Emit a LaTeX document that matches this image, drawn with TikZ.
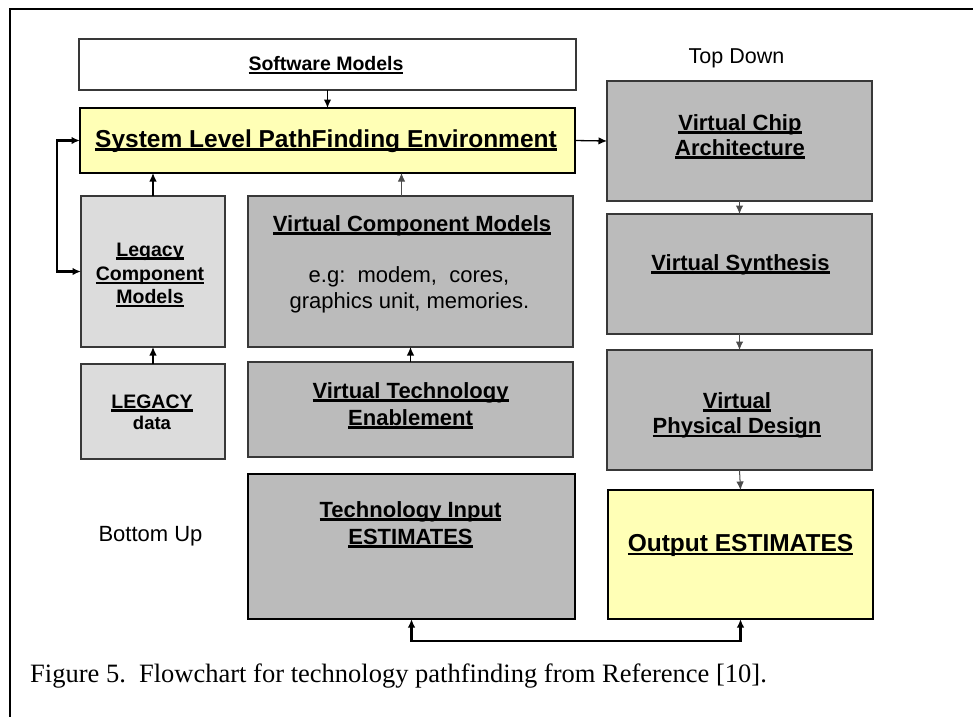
\documentclass[tikz,border=0pt]{standalone}
\usepackage{fontspec}
\setmainfont{Liberation Serif}
\newfontfamily\arialfont{Liberation Sans}
\usetikzlibrary{arrows.meta,calc}

% underlined label: a rule just below the baseline, as wide as the text
\newcommand\ulbox[1]{\setbox0\hbox{#1}\rlap{\rule[-3.6pt]{\wd0}{2.2pt}}\box0}

\definecolor{boxgray}{HTML}{BBBBBB}
\definecolor{boxlight}{HTML}{DCDCDC}
\definecolor{boxyellow}{HTML}{FFFFB6}

\tikzset{
  blk/.style={draw=black!78, line width=1.3pt, inner sep=0pt, outer sep=0pt},
  heavy/.style={draw=black, line width=2.6pt, inner sep=0pt, outer sep=0pt},
  hd/.style={font=\arialfont\bfseries\fontsize{22}{26}\selectfont, inner sep=0pt, anchor=base},
  bighd/.style={font=\arialfont\bfseries\fontsize{24.5}{28}\selectfont, inner sep=0pt, anchor=base},
  smhd/.style={font=\arialfont\bfseries\fontsize{19.5}{23}\selectfont, inner sep=0pt, anchor=base},
  plain/.style={font=\arialfont\fontsize{22}{26}\selectfont, inner sep=0pt, anchor=base},
  tip/.tip={Latex[length=8.5pt,width=7.5pt]},
  arr/.style={-tip, line width=1.3pt},
  lightarr/.style={-tip, line width=1pt, draw=black!70},
  loopline/.style={tip-tip, line width=2.2pt},
}

\begin{document}
\begin{tikzpicture}[x=1pt,y=-1pt]
\useasboundingbox (0,0) rectangle (973,716);
\clip (0,0) rectangle (973,716);

% page frame
\draw[line width=2pt] (10,730) -- (10,9) -- (990,9);

% boxes
\node[blk, fill=white, minimum width=497pt, minimum height=51pt] (sw) at (327.5,64.5) {};
\node[heavy, fill=boxyellow, minimum width=495pt, minimum height=65pt] (slpe) at (327.5,140.5) {};
\node[blk, fill=boxlight, minimum width=144pt, minimum height=151pt] (lcm) at (153,271.5) {};
\node[blk, fill=boxgray, minimum width=325pt, minimum height=151pt] (vcm) at (410.5,271.5) {};
\node[blk, fill=boxlight, minimum width=144pt, minimum height=95pt] (ldata) at (153,411.5) {};
\node[blk, fill=boxgray, minimum width=325pt, minimum height=95pt] (vte) at (410.5,409.5) {};
\node[heavy, fill=boxgray, minimum width=327pt, minimum height=145pt] (tie) at (411.5,546.5) {};
\node[blk, fill=boxgray, minimum width=265pt, minimum height=120pt] (vca) at (739.5,141) {};
\node[blk, fill=boxgray, minimum width=265pt, minimum height=120pt] (vs) at (739.5,274) {};
\node[blk, fill=boxgray, minimum width=265pt, minimum height=120pt] (vpd) at (739.5,410) {};
\node[heavy, fill=boxyellow, minimum width=265pt, minimum height=129pt] (out) at (740.5,554.5) {};

% box texts
\node[smhd] (sw-t) at (326,70.5) {\ulbox{Software Models}};
\node[bighd] (slpe-t) at (326,147) {\ulbox{System Level PathFinding Environment}};
\node[smhd] (lcm-t1) at (150,256) {\ulbox{Legacy}};
\node[smhd] (lcm-t2) at (150,280.5) {\ulbox{Component}};
\node[smhd] (lcm-t3) at (150,303.5) {\ulbox{Models}};
\node[hd] (vcm-t) at (412,231) {\ulbox{Virtual Component Models}};
\node[plain] (vcm-e1) at (409,282) {e.g:\ \ modem,\ \ cores,};
\node[plain] (vcm-e2) at (409.5,308.5) {graphics unit, memories.};
\node[smhd] (ldata-t1) at (152,408) {\ulbox{LEGACY}};
\node[font=\arialfont\bfseries\fontsize{18.5}{22}\selectfont, inner sep=0pt, anchor=base] (ldata-t2) at (152,429) {data};
\node[hd] (vte-t1) at (410.5,398) {\ulbox{Virtual Technology}};
\node[hd] (vte-t2) at (410.5,425) {\ulbox{Enablement}};
\node[hd] (tie-t1) at (410.5,517) {\ulbox{Technology Input}};
\node[hd] (tie-t2) at (410.5,544) {\ulbox{ESTIMATES}};
\node[hd] (vca-t1) at (740,130) {\ulbox{Virtual Chip}};
\node[hd] (vca-t2) at (740,155) {\ulbox{Architecture}};
\node[hd] (vs-t) at (740.5,270) {\ulbox{Virtual Synthesis}};
\node[hd] (vpd-t1) at (737,408) {\ulbox{Virtual}};
\node[hd] (vpd-t2) at (737,433.5) {\ulbox{Physical Design}};
\node[bighd] (out-t) at (740.5,551.5) {\ulbox{Output ESTIMATES}};

% side labels
\node[plain, font=\arialfont\fontsize{21.5}{26}\selectfont] (td) at (736.5,63) {Top Down};
\node[plain] (bu) at (150.5,541) {Bottom Up};

% connectors
\draw[arr] (sw.south -| slpe.north) -- (slpe.north);
\draw[arr] (slpe.east) -- (vca.west);
\draw[lightarr] (vca.south) -- (vs.north);
\draw[lightarr] (vs.south) -- (vpd.north);
\draw[lightarr] (vpd.south) -- (out.north);
\draw[arr] (lcm.north) -- (lcm.north |- slpe.south);
\draw[lightarr] ($(vcm.north)+(-9,0)$) -- ($(vcm.north |- slpe.south)+(-9,0)$);
\draw[arr] (ldata.north) -- (lcm.south);
\draw[arr] (vte.north) -- (vcm.south);
\draw[loopline] (slpe.west) -- ++(-23,0) |- (lcm.west);
\draw[loopline] (tie.south) -- ++(0,22) -| (out.south);

% caption
\node[anchor=base west, inner sep=0pt, font=\fontsize{26.5}{30}\selectfont] (cap) at (30,682)
  {Figure 5.\ \ Flowchart for technology pathfinding from Reference [10].};
\end{tikzpicture}
\end{document}
